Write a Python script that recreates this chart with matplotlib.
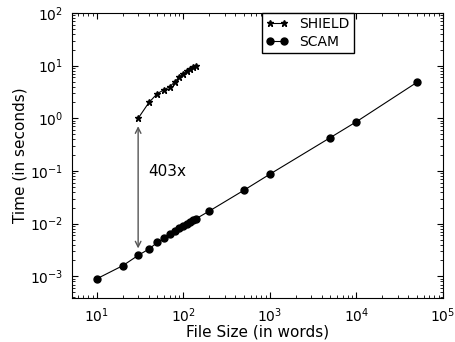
import matplotlib

matplotlib.use("Agg")
import matplotlib.pyplot as plt

# SCAM timings (file size in words -> seconds)
scam_x = [10, 20, 30, 40, 50, 60, 70, 80, 90, 100, 110, 120, 130, 140,
          200, 500, 1000, 5000, 10000, 50000]
scam_y = [0.0009, 0.0016, 0.0025, 0.0033, 0.0044, 0.0053, 0.0065, 0.0072,
          0.0081, 0.0090, 0.0099, 0.0108, 0.0116, 0.0124,
          0.0174, 0.043, 0.087, 0.43, 0.86, 4.8]

# SHIELD timings
shield_x = [30, 40, 50, 60, 70, 80, 90, 100, 110, 120, 130, 140]
shield_y = [1.0, 2.0, 2.95, 3.5, 4.0, 5.0, 6.1, 7.0, 7.9, 8.8, 9.4, 10.0]

ratio_x = 30
ratio_label = "403x"

plt.rcParams.update({
    "font.size": 10,
    "xtick.direction": "in", "ytick.direction": "in",
    "xtick.top": True, "ytick.right": True,
    "xtick.labelsize": 10, "ytick.labelsize": 10,
    "xtick.major.size": 4, "ytick.major.size": 4,
    "xtick.minor.size": 2, "ytick.minor.size": 2,
    "xtick.major.pad": 6, "ytick.major.pad": 6,
})

fig = plt.figure(figsize=(4.56, 3.42), dpi=100)
ax = fig.add_axes([0.157, 0.129, 0.814, 0.833])

ax.plot(shield_x, shield_y, "k*-", lw=0.8, ms=5, label="SHIELD")
ax.plot(scam_x, scam_y, "ko-", lw=0.8, ms=5, label="SCAM")

ax.set_xscale("log")
ax.set_yscale("log")
ax.set_xlim(5.1, 1e5)
ax.set_ylim(3.9e-4, 100)

ax.annotate("", xy=(ratio_x, shield_y[0] * 0.8), xytext=(ratio_x, scam_y[2] * 1.2),
            arrowprops=dict(arrowstyle="<->", color="#555555", lw=1))
ax.text(ratio_x * 1.3, 0.1, ratio_label, fontsize=11, va="center", ha="left")

ax.set_xlabel("File Size (in words)", fontsize=11, labelpad=0)
ax.set_ylabel("Time (in seconds)", fontsize=11, labelpad=2)

leg = ax.legend(loc="upper center", bbox_to_anchor=(0.636, 1.0), borderaxespad=0,
                numpoints=2, fancybox=False, framealpha=1, fontsize=10,
                handlelength=1.6, borderpad=0.3, labelspacing=0.25,
                handletextpad=0.8)
leg.get_frame().set_edgecolor("black")

fig.savefig("out.png", dpi=100)
